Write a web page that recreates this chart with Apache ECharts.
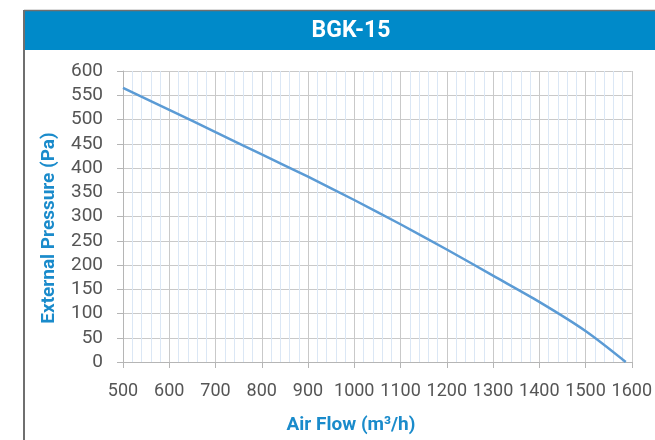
<!DOCTYPE html>
<html>
<head>
<meta charset="utf-8">
<script src="https://cdn.jsdelivr.net/npm/echarts@6/dist/echarts.min.js"></script>
<style>
html,body{margin:0;padding:0;background:#fff;}
#c{width:655px;height:440px;}
</style>
</head>
<body>
<div id="c"></div>
<script>
const chartTitle = 'BGK-15';
const xName = 'Air Flow (m³/h)';
const yName = 'External Pressure (Pa)';
const airFlow = [500, 600, 700, 800, 900, 1000, 1100, 1200, 1300, 1400, 1500, 1587];
const pressure = [565, 520, 474, 428, 382, 334, 284, 232, 178, 124, 64, 0];
const xTicks = {min: 500, max: 1600, step: 100};
const yTicks = {min: 0, max: 600, step: 50};

const chart = echarts.init(document.getElementById('c'), null, {renderer: 'canvas'});
const gridL = 123, gridR = 634, gridT = 71, gridB = 362;
const labelFont = 'Roboto, "DejaVu Sans", sans-serif';
chart.setOption({
  animation: false,
  backgroundColor: '#ffffff',
  grid: {left: gridL, right: 655 - gridR, top: gridT, bottom: 440 - gridB, containLabel: false},
  graphic: [
    {type: 'rect', shape: {x: 24, y: 11, width: 640, height: 39}, style: {fill: '#008AC9'}, z: 1},
    {type: 'line', shape: {x1: 24, y1: 10, x2: 24, y2: 440}, style: {stroke: '#6f6f6f', lineWidth: 2}, z: 2},
    {type: 'line', shape: {x1: 24, y1: 10.5, x2: 655, y2: 10.5}, style: {stroke: '#6f6f6f', lineWidth: 1.5}, z: 2},
    {type: 'text', x: 351, y: 31, style: {text: chartTitle, fill: '#ffffff', font: 'bold 23px ' + labelFont, textAlign: 'center', textVerticalAlign: 'middle'}, z: 3},
    {type: 'text', x: 351, y: 425, style: {text: xName, fill: '#1A8BCB', font: 'bold 19px ' + labelFont, textAlign: 'center', textVerticalAlign: 'middle'}, z: 3},
    {type: 'text', x: 49, y: 228, rotation: Math.PI / 2, style: {text: yName, fill: '#1A8BCB', font: 'bold 19px ' + labelFont, textAlign: 'center', textVerticalAlign: 'middle'}, z: 3}
  ],
  xAxis: {
    type: 'value',
    min: xTicks.min, max: xTicks.max, interval: xTicks.step,
    axisLine: {show: true, lineStyle: {color: '#b5b5b5', width: 1}},
    axisTick: {show: true, length: 6, lineStyle: {color: '#b5b5b5'}},
    axisLabel: {color: '#555555', fontSize: 18, fontFamily: labelFont, margin: 20, showMinLabel: true, showMaxLabel: true, hideOverlap: false, formatter: v => String(v)},
    splitLine: {show: true, lineStyle: {color: '#c9c9c9', width: 1}},
    minorTick: {show: false, splitNumber: 5},
    minorSplitLine: {show: true, lineStyle: {color: '#dbe7f5', width: 1}}
  },
  yAxis: {
    type: 'value',
    min: yTicks.min, max: yTicks.max, interval: yTicks.step,
    axisLine: {show: true, lineStyle: {color: '#b5b5b5', width: 1}},
    axisTick: {show: true, length: 6, lineStyle: {color: '#b5b5b5'}},
    axisLabel: {color: '#555555', fontSize: 19, fontFamily: labelFont, margin: 20, formatter: v => String(v)},
    splitLine: {show: true, lineStyle: {color: '#c9c9c9', width: 1}}
  },
  series: [{
    type: 'line',
    data: airFlow.map((x, i) => [x, pressure[i]]),
    smooth: 0.3,
    symbol: 'none',
    lineStyle: {color: '#5B9BD5', width: 2.5},
    z: 5
  }]
});
</script>
</body>
</html>
